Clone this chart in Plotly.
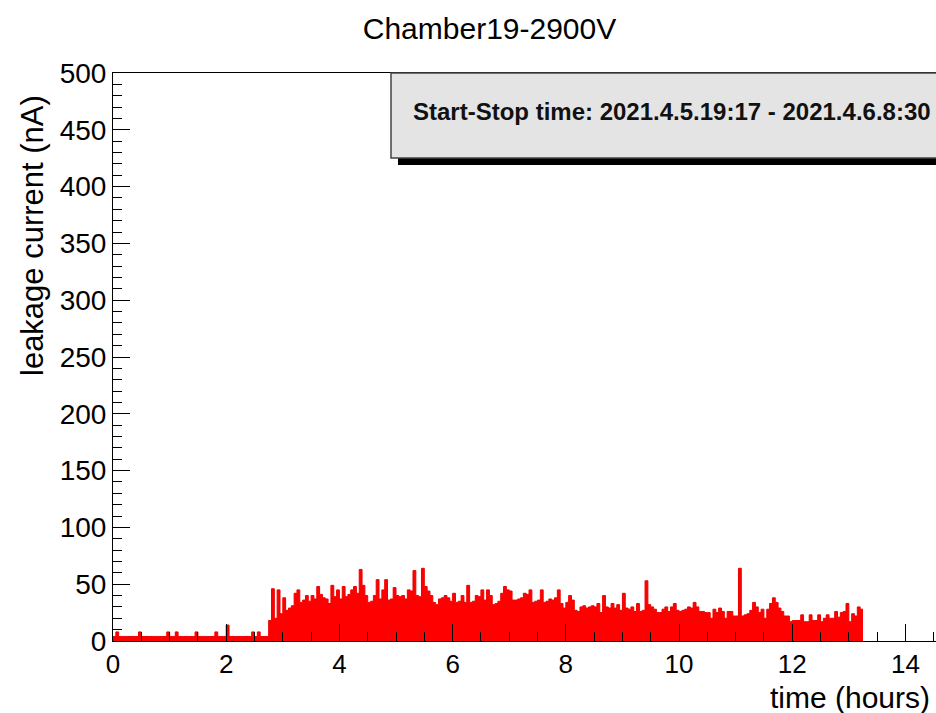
import plotly.graph_objects as go

# ---- data -------------------------------------------------------------
TITLE = "Chamber19-2900V"
X_TITLE = "time (hours)"
Y_TITLE = "leakage current (nA)"
INFO_TEXT = "Start-Stop time: 2021.4.5.19:17 - 2021.4.6.8:30"

BIN_WIDTH = 0.05          # hours per histogram bin
X_RANGE = [0, 14.54]
Y_RANGE = [0, 500]
X_TICKS = [0, 2, 4, 6, 8, 10, 12, 14]
Y_TICKS = [0, 50, 100, 150, 200, 250, 300, 350, 400, 450, 500]

# leakage current per bin (nA)
current_low = [4, 8, 4, 4, 4, 4, 4, 4, 4, 8,
               4, 4, 4, 4, 4, 4, 4, 4, 4, 8,
               4, 4, 8, 4, 4, 4, 4, 4, 4, 8,
               4, 4, 4, 4, 4, 4, 8, 4, 4, 4,
               14, 4, 4, 4, 4, 4, 4, 4, 4, 8,
               4, 8, 4, 4, 4]
current_rise = [18, 46, 20, 45, 24, 38, 27, 29, 31, 42,
                45, 34, 36, 40, 35, 40, 37, 48, 41, 38,
                37, 33, 49, 39, 45, 37, 48, 39, 41, 45,
                48, 42, 63, 49, 40, 34, 35, 40, 54, 37,
                45, 54, 36, 37, 47, 40, 39, 40, 37, 45,
                44, 62]
current_mid = [40, 39, 64, 48, 44, 40, 34, 32, 37, 38,
               40, 38, 35, 42, 34, 35, 40, 34, 49, 34,
               35, 40, 39, 45, 36, 45, 40, 32, 33, 35,
               42, 48, 45, 44, 36, 36, 37, 38, 42, 41,
               45, 34, 35, 36, 45, 34, 35, 37, 36, 38,
               45, 33, 29]
current_late = [34, 40, 36, 27, 26, 30, 31, 29, 30, 31,
                30, 33, 25, 40, 30, 29, 33, 29, 32, 27,
                42, 29, 28, 30, 26, 33, 26, 27, 53, 32,
                30, 28, 25, 25, 28, 30, 26, 30, 33, 27,
                26, 27, 28, 30, 29, 34, 30, 26, 26, 25,
                25, 20, 28]
current_end = [25, 29, 26, 20, 26, 26, 22, 22, 64, 22,
               23, 24, 27, 34, 30, 25, 28, 20, 28, 33,
               38, 34, 29, 26, 22, 22, 17, 18, 18, 18,
               23, 17, 17, 23, 18, 18, 23, 17, 20, 23,
               20, 20, 26, 21, 25, 26, 33, 17, 24, 22,
               30, 28]
current = current_low + current_rise + current_mid + current_late + current_end

# ---- figure -----------------------------------------------------------
W, H = 936, 713
ML, MR, MT, MB = 113, 0, 73, 72
PW, PH = W - ML - MR, H - MT - MB
FONT = "Liberation Sans, Arial, Helvetica, sans-serif"


def px(x):
    return (x - ML) / PW


def py(y):
    return (H - MB - y) / PH


edges = [i * BIN_WIDTH for i in range(len(current) + 1)]
step_y = current + [current[-1]]

fig = go.Figure()
fig.add_trace(go.Scatter(
    x=edges, y=step_y, mode="lines", line_shape="hv",
    line=dict(color="#ee0000", width=1),
    fill="tozeroy", fillcolor="#ff0000",
    hoverinfo="skip", showlegend=False,
))

fig.update_layout(
    width=W, height=H,
    margin=dict(l=ML, r=MR, t=MT, b=MB),
    paper_bgcolor="white", plot_bgcolor="white",
    font=dict(family=FONT, color="black"),
    title=dict(text=TITLE, x=489.5 / W, xanchor="center",
               y=1 - 28 / H, yanchor="middle",
               font=dict(size=30, family=FONT, color="black")),
    showlegend=False,
)

fig.update_xaxes(
    range=X_RANGE, tickvals=X_TICKS, ticktext=[str(v) for v in X_TICKS],
    ticks="inside", ticklen=17, tickwidth=1, tickcolor="black",
    minor=dict(dtick=0.5, ticks="inside", ticklen=9, tickwidth=1, tickcolor="black"),
    showline=True, linecolor="black", linewidth=1, mirror=True,
    showgrid=False, zeroline=False,
    tickfont=dict(size=26, family=FONT, color="black"),
)
fig.update_yaxes(
    range=Y_RANGE, tickvals=Y_TICKS, ticktext=[str(v) for v in Y_TICKS],
    ticks="inside", ticklen=17, tickwidth=1, tickcolor="black",
    minor=dict(dtick=10, ticks="inside", ticklen=9, tickwidth=1, tickcolor="black"),
    showline=True, linecolor="black", linewidth=1, mirror=True,
    showgrid=False, zeroline=False,
    tickfont=dict(size=28, family=FONT, color="black"),
)

# info box with shadow (ROOT TPaveText style)
fig.add_shape(type="rect", xref="paper", yref="paper",
              x0=px(398), x1=px(960), y0=py(165), y1=py(150),
              fillcolor="black", line=dict(width=0), layer="above")
fig.add_shape(type="rect", xref="paper", yref="paper",
              x0=px(391), x1=px(960), y0=py(158), y1=py(73),
              fillcolor="#e4e4e4", line=dict(color="#444444", width=1.5), layer="above")
fig.add_annotation(text="<b>" + INFO_TEXT + "</b>", xref="paper", yref="paper",
                   x=px(672), y=py(112), xanchor="center", yanchor="middle",
                   showarrow=False, font=dict(size=24, family=FONT, color="#111111"))

# axis titles (ROOT aligns them to the axis end)
fig.add_annotation(text=Y_TITLE, xref="paper", yref="paper",
                   x=px(32), y=py(236), textangle=-90,
                   xanchor="center", yanchor="middle", showarrow=False,
                   font=dict(size=31, family=FONT, color="black"))
fig.add_annotation(text=X_TITLE, xref="paper", yref="paper",
                   x=px(932), y=py(697), xanchor="right", yanchor="middle",
                   showarrow=False, font=dict(size=30, family=FONT, color="black"))

fig.write_html("out.html")
